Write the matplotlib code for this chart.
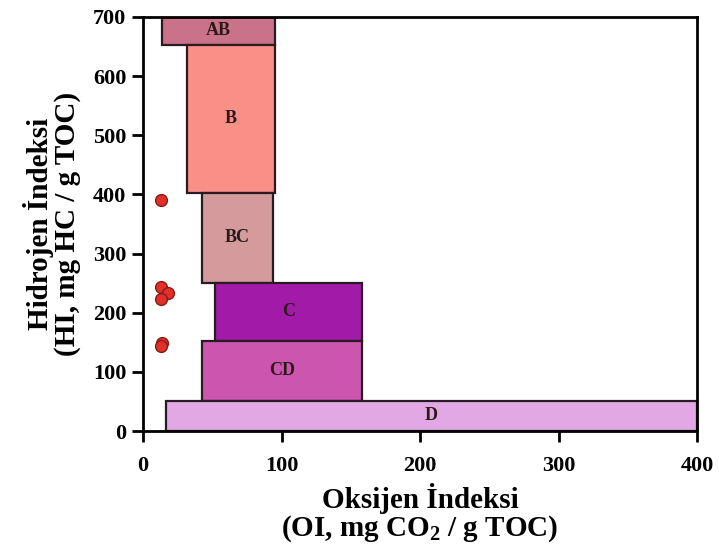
import matplotlib.pyplot as plt

plt.rcParams['font.family'] = ['Liberation Serif', 'DejaVu Serif']
plt.rcParams['font.weight'] = 'bold'
plt.rcParams['mathtext.default'] = 'regular'

# kerogen type fields (OI range, HI range)
zones = ['AB', 'B', 'BC', 'C', 'CD', 'D']
x_min = [13.5, 31.8, 42.4, 52.0, 42.8, 16.6]
x_max = [95.0, 95.0, 94.1, 158.0, 158.0, 400.0]
y_min = [653, 403, 251, 153, 51, 0]
y_max = [700, 653, 403, 251, 153, 51]
zone_colors = ['#c9728a', '#fa8f87', '#d49a9c', '#a21aa8', '#cc55b0', '#e2a8e6']

# samples
oi = [12.8, 12.8, 17.8, 12.8, 14.0, 12.8]
hi = [390, 244, 234, 223, 148, 144]

fig, ax = plt.subplots(figsize=(7.19, 5.47), dpi=100)
fig.subplots_adjust(left=0.199, right=0.9694, top=0.969, bottom=0.212)

edge = '#2a1a22'
for z, x0, x1, y0, y1, c in zip(zones, x_min, x_max, y_min, y_max, zone_colors):
    ax.fill([x0, x1, x1, x0], [y0, y0, y1, y1], facecolor=c, edgecolor=edge,
            linewidth=1.6, zorder=2)
    ax.text((x0 + x1) / 2, (y0 + y1) / 2, z, ha='center', va='center',
            fontsize=13, fontweight='bold', color='#2a1a1a', zorder=3)

ax.plot(oi, hi, 'o', color='#e0302a', markeredgecolor='#8a1a14',
        markersize=8.5, markeredgewidth=1, zorder=4)

ax.set_xlim(0, 400)
ax.set_ylim(0, 700)
ax.set_xticks([0, 100, 200, 300, 400])
ax.set_yticks(range(0, 701, 100))
ax.tick_params(direction='out', length=8, width=2, labelsize=16, pad=4)
ax.tick_params(axis='x', pad=10)
for sp in ax.spines.values():
    sp.set_linewidth(2)
    sp.set_zorder(5)

ax.set_xlabel('Oksijen İndeksi\n(OI, mg CO$_2$ / g TOC)', fontsize=21,
              fontweight='bold', linespacing=0.95, labelpad=5)
ax.set_ylabel('Hidrojen İndeksi\n(HI, mg HC / g TOC)', fontsize=21,
              fontweight='bold', linespacing=0.95, labelpad=9)

plt.savefig('out.png', dpi=100)
